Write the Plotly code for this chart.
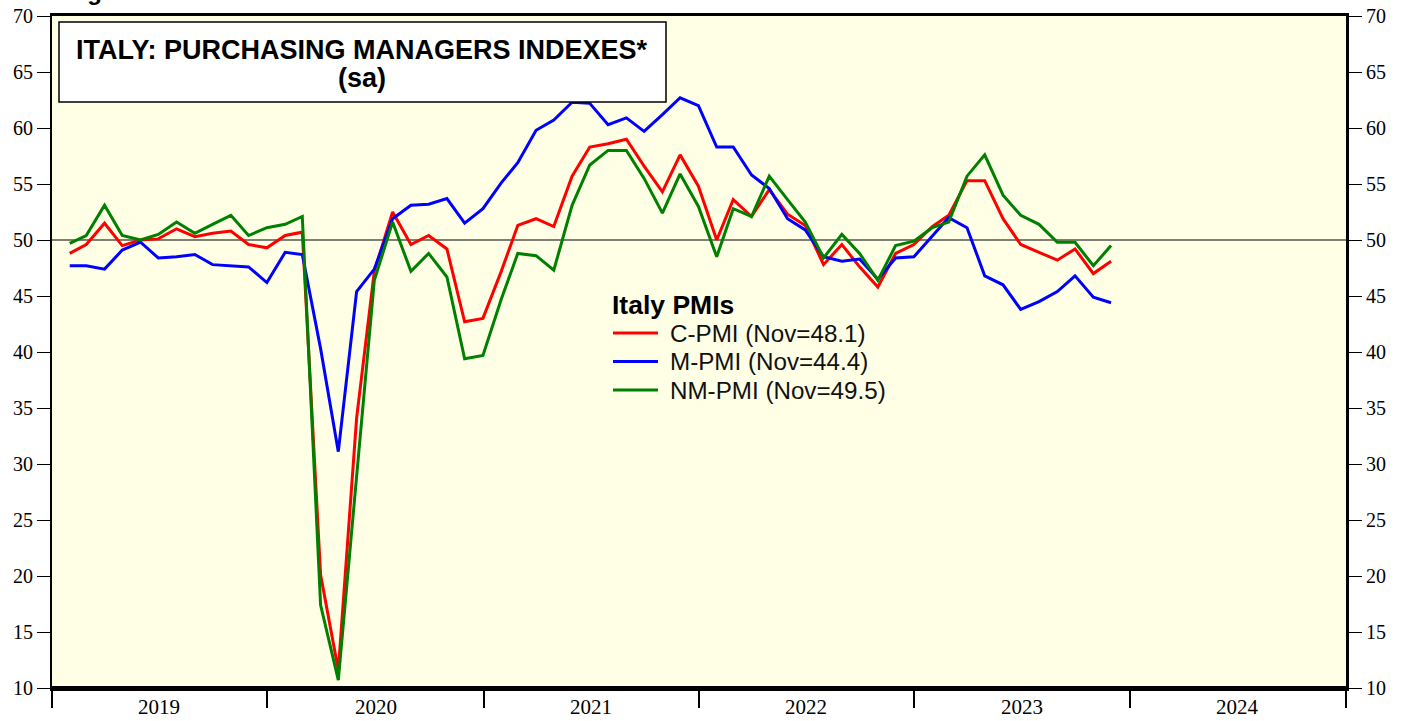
import pandas as pd
import plotly.graph_objects as go

# ---------------- data ----------------
months = pd.date_range("2019-01-31", periods=59, freq="ME")  # month-end dates, Jan 2019 .. Nov 2023

c_pmi = [48.8, 49.6, 51.5, 49.5, 50.0, 50.1, 51.0, 50.3, 50.6, 50.8, 49.6, 49.3,
         50.4, 50.7, 20.1, 11.6, 34.1, 47.2, 52.5, 49.6, 50.4, 49.2, 42.7, 43.0,
         47.2, 51.3, 51.9, 51.2, 55.7, 58.3, 58.6, 59.0, 56.6, 54.3, 57.6, 54.8,
         50.0, 53.6, 52.1, 54.5, 52.3, 51.3, 47.8, 49.6, 47.6, 45.8, 48.8, 49.6,
         51.2, 52.2, 55.3, 55.3, 51.9, 49.6, 48.9, 48.2, 49.2, 47.0, 48.1]

m_pmi = [47.7, 47.7, 47.4, 49.1, 49.8, 48.4, 48.5, 48.7, 47.8, 47.7, 47.6, 46.2,
         48.9, 48.7, 40.3, 31.1, 45.4, 47.4, 51.9, 53.1, 53.2, 53.7, 51.5, 52.8,
         55.1, 56.9, 59.8, 60.7, 62.3, 62.2, 60.3, 60.9, 59.7, 61.2, 62.7, 62.0,
         58.3, 58.3, 55.8, 54.6, 51.9, 50.9, 48.5, 48.1, 48.3, 46.5, 48.4, 48.5,
         50.3, 52.0, 51.1, 46.8, 46.0, 43.8, 44.5, 45.4, 46.8, 44.9, 44.4]

nm_pmi = [49.7, 50.4, 53.1, 50.4, 50.0, 50.5, 51.6, 50.6, 51.4, 52.2, 50.4, 51.1,
          51.4, 52.1, 17.4, 10.7, 28.9, 46.4, 51.6, 47.2, 48.8, 46.7, 39.4, 39.7,
          44.7, 48.8, 48.6, 47.3, 53.1, 56.7, 58.0, 58.0, 55.5, 52.4, 55.9, 53.0,
          48.5, 52.8, 52.1, 55.7, 53.6, 51.6, 48.4, 50.5, 48.8, 46.4, 49.5, 49.9,
          51.1, 51.6, 55.7, 57.6, 54.0, 52.2, 51.4, 49.8, 49.8, 47.7, 49.5]

series_names = ["C-PMI (Nov=48.1)", "M-PMI (Nov=44.4)", "NM-PMI (Nov=49.5)"]
series_colors = ["#FF0000", "#0000FF", "#008000"]
year_labels = ["2019", "2020", "2021", "2022", "2023", "2024"]
title_lines = ["ITALY: PURCHASING MANAGERS INDEXES*", "(sa)"]
legend_title = "Italy PMIs"
figure_label = "Figure"

# ---------------- figure ----------------
W, H = 1408, 721
ML, MR, MT, MB = 52, 62, 16, 33
PW, PH = W - ML - MR, H - MT - MB


def px_x(p):
    return (p - ML) / PW


def px_y(p):
    return (H - MB - p) / PH


fig = go.Figure()
for vals, name, col in zip([c_pmi, m_pmi, nm_pmi], series_names, series_colors):
    fig.add_trace(go.Scatter(x=months, y=vals, mode="lines", name=name,
                             line=dict(color=col, width=3), showlegend=False))
# invisible trace so that the right-hand axis is rendered
fig.add_trace(go.Scatter(x=months, y=c_pmi, yaxis="y2", mode="lines",
                         line=dict(width=0), opacity=0, showlegend=False, hoverinfo="skip"))

serif = "Liberation Serif, Times New Roman, serif"
sans = "Liberation Sans, Arial, sans-serif"

yax = dict(range=[10, 70], dtick=5, tick0=10, ticks="outside", ticklen=13, tickwidth=1,
           tickcolor="black", showgrid=False, zeroline=False, showline=True,
           linecolor="black", automargin=False,
           tickfont=dict(family=serif, size=20, color="black"))

fig.update_layout(
    width=W, height=H, autosize=False,
    margin=dict(l=ML, r=MR, t=MT, b=MB, pad=0, autoexpand=False),
    paper_bgcolor="white", plot_bgcolor="#FFFFE6",
    showlegend=False,
    xaxis=dict(range=["2019-01-01", "2025-01-01"], dtick="M12", tick0="2019-01-01",
               ticks="outside", ticklen=17, tickwidth=2, tickcolor="black",
               showticklabels=False, showgrid=False, zeroline=False, automargin=False,
               showline=True, linecolor="black", linewidth=3, mirror=True),
    yaxis=dict(**yax, linewidth=2, side="left"),
    yaxis2=dict(**yax, linewidth=3, side="right", overlaying="y", anchor="x"),
)

shapes = [
    dict(type="line", xref="paper", yref="y", x0=0, x1=1, y0=50, y1=50,
         line=dict(color="black", width=1.2), layer="below"),
    dict(type="line", xref="paper", yref="paper", x0=0, x1=1, y0=0, y1=0,
         line=dict(color="black", width=4)),
    dict(type="rect", xref="paper", yref="paper", x0=px_x(59), x1=px_x(666),
         y0=px_y(102), y1=px_y(22), fillcolor="white",
         line=dict(color="black", width=1.5), layer="above"),
]

annotations = []
# partially visible figure label at the very top (cut off in the original too)
annotations.append(dict(x=px_x(64), y=px_y(7), xref="paper", yref="paper",
                        text=f"<b>{figure_label}</b>", showarrow=False,
                        xanchor="left", yanchor="bottom",
                        font=dict(family=sans, size=24, color="black")))
# year labels centred on each year
for lab in year_labels:
    annotations.append(dict(x=f"{lab}-07-02", xref="x", y=px_y(707), yref="paper",
                            text=lab, showarrow=False, xanchor="center", yanchor="middle",
                            font=dict(family=serif, size=21, color="black")))
# title box text
annotations.append(dict(x=px_x(362), y=px_y(50), xref="paper", yref="paper",
                        text=f"<b>{title_lines[0]}</b>", showarrow=False,
                        xanchor="center", yanchor="middle",
                        font=dict(family=sans, size=27, color="black")))
annotations.append(dict(x=px_x(362), y=px_y(78), xref="paper", yref="paper",
                        text=f"<b>{title_lines[1]}</b>", showarrow=False,
                        xanchor="center", yanchor="middle",
                        font=dict(family=sans, size=27, color="black")))
# manual legend
annotations.append(dict(x=px_x(610), y=px_y(305), xref="paper", yref="paper",
                        text=f"<b>{legend_title}</b>", showarrow=False,
                        xanchor="left", yanchor="middle",
                        font=dict(family=sans, size=26.5, color="black")))
for i, (name, col) in enumerate(zip(series_names, series_colors)):
    yy = 333 + i * 28.5
    shapes.append(dict(type="line", xref="paper", yref="paper",
                       x0=px_x(613), x1=px_x(658), y0=px_y(yy), y1=px_y(yy),
                       line=dict(color=col, width=3)))
    annotations.append(dict(x=px_x(668), y=px_y(yy), xref="paper", yref="paper",
                            text=name, showarrow=False, xanchor="left", yanchor="middle",
                            font=dict(family=sans, size=24.2, color="#111111")))

fig.update_layout(shapes=shapes, annotations=annotations)
fig.write_html("out.html", config={"displayModeBar": False},
               post_script="document.body.style.margin='0';document.body.style.overflow='hidden';")
